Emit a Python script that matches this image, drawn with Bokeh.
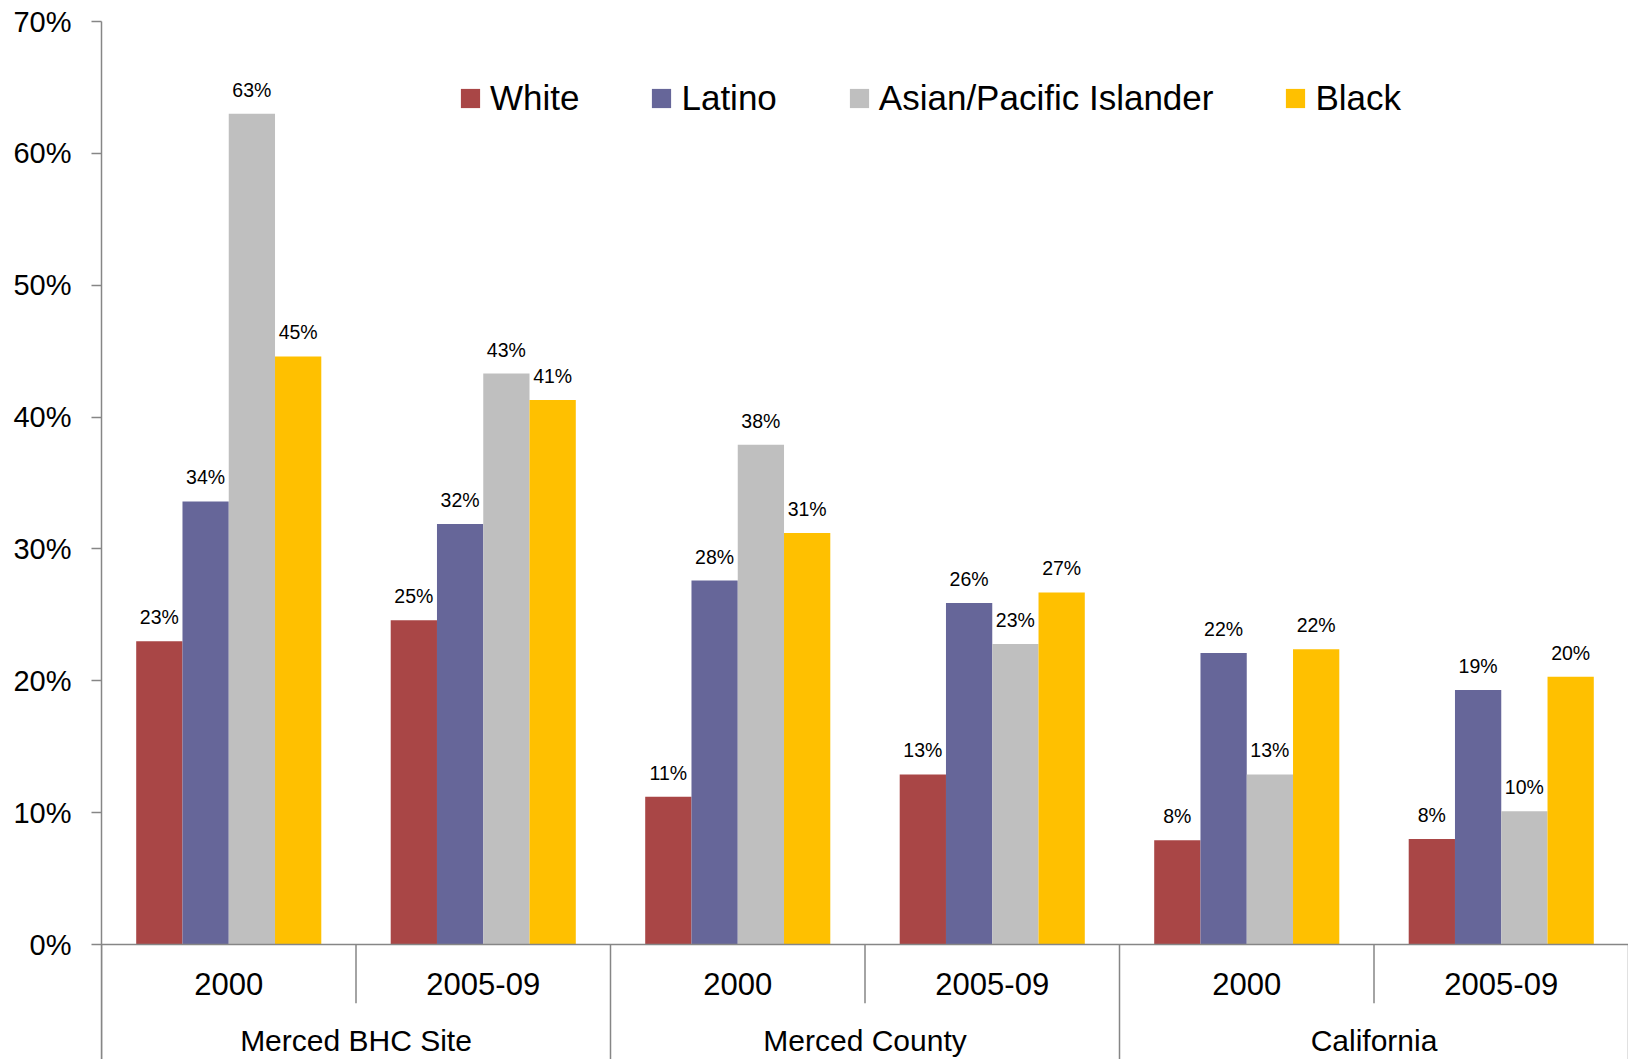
import numpy as np
from bokeh.plotting import figure
from bokeh.models import (ColumnDataSource, Range1d, FixedTicker, Legend,
                          LegendItem, Span)
from bokeh.core.properties import value
from bokeh.embed import file_html
from bokeh.resources import INLINE

# ---------------- data ----------------
groups = ["Merced BHC Site", "Merced County", "California"]
years = ["2000", "2005-09"]
races = ["White", "Latino", "Asian/Pacific Islander", "Black"]
white = [23.0, 24.6, 11.2, 12.9, 7.9, 8.0]
latino = [33.6, 31.9, 27.6, 25.9, 22.1, 19.3]
asian = [63.0, 43.3, 37.9, 22.8, 12.9, 10.1]
black = [44.6, 41.3, 31.2, 26.7, 22.4, 20.3]
y_ticks = [0, 10, 20, 30, 40, 50, 60, 70]

# ---------------- style ----------------
colors = ["#A94646", "#666699", "#BFBFBF", "#FFC000"]
FONT = "Liberation Sans"
AXIS_GRAY = "#868686"
Y_BOTTOM = -8.72         # extends frame below 0 to hold the category axis
YEAR_LABEL_Y = -2.98
GROUP_LABEL_Y = -7.25
YEAR_SEP_Y = -4.45

series = [white, latino, asian, black]
n_cat = len(groups) * len(years)
cat_idx = np.arange(n_cat)
bar_w = 1 / 5.5
offsets = (np.arange(len(races)) - (len(races) - 1) / 2) * bar_w

p = figure(width=1628, height=1059, output_backend="svg", toolbar_location=None,
           x_range=Range1d(0, n_cat), y_range=Range1d(Y_BOTTOM, max(y_ticks)),
           x_axis_location=None, min_border_left=101, min_border_right=0,
           min_border_top=21, min_border_bottom=0)
p.outline_line_color = None
p.xgrid.visible = False
p.ygrid.visible = False
p.background_fill_color = "white"

# y axis
ya = p.yaxis[0]
ya.ticker = FixedTicker(ticks=y_ticks)
ya.major_label_overrides = {t: f"{t}%" for t in y_ticks}
ya.axis_line_color = AXIS_GRAY
ya.axis_line_width = 1.5
ya.major_tick_line_color = AXIS_GRAY
ya.major_tick_line_width = 1.5
ya.major_tick_out = 10
ya.major_tick_in = 0
ya.minor_tick_line_color = None
ya.major_label_standoff = 20
ya.major_label_text_font = FONT
ya.major_label_text_font_size = "29px"
ya.major_label_text_color = "#000000"

# baseline
p.add_layout(Span(location=0, dimension="width", line_color=AXIS_GRAY, line_width=1.5))

# bars
items = []
for k, (race, vals, col) in enumerate(zip(races, series, colors)):
    src = ColumnDataSource(dict(
        x=cat_idx + 0.5 + offsets[k],
        top=vals,
        lab=[f"{v:.0f}%" for v in vals],
    ))
    r = p.vbar(x="x", top="top", width=bar_w, bottom=0, source=src,
               fill_color=col, line_color=None)
    p.text(x="x", y="top", text="lab", source=src, text_align="center",
           text_baseline="alphabetic", y_offset=-24,
           text_font=value(FONT), text_font_size="19.5px", text_color="#000000")
    items.append(LegendItem(label=race, renderers=[r]))

# category axis: separators and labels
bounds = np.arange(n_cat + 1)
is_group_bound = bounds % len(years) == 0
p.segment(x0=bounds[~is_group_bound], x1=bounds[~is_group_bound],
          y0=0, y1=YEAR_SEP_Y, line_color=AXIS_GRAY, line_width=1.5)
p.segment(x0=bounds[is_group_bound], x1=bounds[is_group_bound],
          y0=0, y1=Y_BOTTOM, line_color=AXIS_GRAY, line_width=1.5)

year_labels = [years[i % len(years)] for i in cat_idx]
p.text(x=cat_idx + 0.5, y=[YEAR_LABEL_Y] * n_cat, text=year_labels,
       text_align="center", text_baseline="alphabetic",
       text_font=value(FONT), text_font_size="31px", text_color="#000000")
g_idx = np.arange(len(groups))
p.text(x=g_idx * len(years) + len(years) / 2, y=[GROUP_LABEL_Y] * len(groups),
       text=groups, text_align="center", text_baseline="alphabetic",
       text_font=value(FONT), text_font_size="30px", text_color="#000000")

# legend
legend = Legend(items=items, orientation="horizontal", location=(357, 941),
                spacing=70, label_standoff=8, glyph_width=24, glyph_height=24,
                label_text_font=FONT, label_text_font_size="35px",
                label_text_color="#000000", padding=0, margin=0,
                border_line_color=None, background_fill_alpha=0)
p.add_layout(legend)

open("out.html", "w").write(file_html(p, INLINE))
